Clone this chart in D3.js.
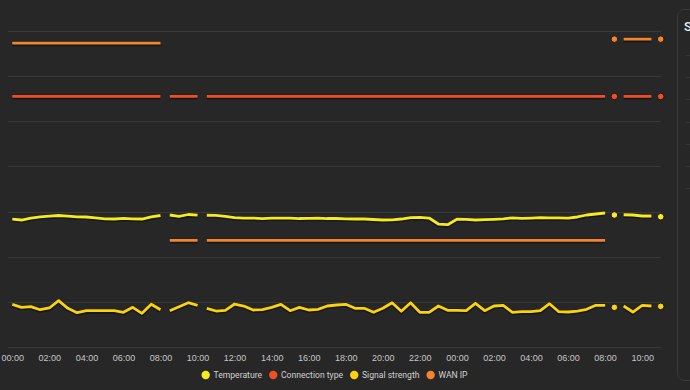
<!DOCTYPE html>
<html>
<head>
<meta charset="utf-8">
<script src="https://cdn.jsdelivr.net/npm/d3@7"></script>
<style>
  html, body { margin: 0; padding: 0; background: #272727; }
  svg { display: block; font-family: Roboto, "Noto Sans", sans-serif; }
</style>
</head>
<body>
<svg id="chart" width="690" height="390"></svg>
<script>
// ---- DATA ----
// hours since first midnight; null values mark gaps in the recording
const hours = [
  0,0.5,1,1.5,2,2.5,3,3.5,4,4.5,5,5.5,6,6.5,7,7.5,8,
  8.25,
  8.5,9,9.5,10,
  10.25,
  10.5,11,11.5,12,12.5,13,13.5,14,14.5,15,15.5,16,16.5,17,17.5,18,18.5,19,19.5,20,
  20.5,21,21.5,22,22.5,23,23.5,24,24.5,25,25.5,26,26.5,27,27.5,28,28.5,29,29.5,30,
  30.5,31,31.5,32,
  32.25,
  32.5,
  32.75,
  33,33.5,34,34.5,
  34.75,
  35
];

const temperature = [
  28.35,28.13,28.57,28.84,28.97,29.13,28.97,28.84,28.80,28.62,28.40,28.35,28.51,28.40,28.35,28.80,29.13,
  null,
  29.24,28.91,29.35,29.19,
  null,
  29.19,29.17,28.95,28.68,28.57,28.57,28.46,28.57,28.57,28.57,28.46,28.51,28.57,28.46,28.46,28.40,28.35,28.35,28.24,28.13,
  28.18,28.35,28.68,28.73,28.57,27.24,27.09,28.31,28.29,28.13,28.22,28.29,28.40,28.62,28.51,28.57,28.64,28.62,28.62,28.57,
  28.80,29.24,29.46,29.68,
  null,
  29.24,
  null,
  29.30,29.24,29.02,29.02,
  null,
  28.86
];

const connectionType = [
  55.5,55.5,55.5,55.5,55.5,55.5,55.5,55.5,55.5,55.5,55.5,55.5,55.5,55.5,55.5,55.5,55.5,
  null,
  55.5,55.5,55.5,55.5,
  null,
  55.5,55.5,55.5,55.5,55.5,55.5,55.5,55.5,55.5,55.5,55.5,55.5,55.5,55.5,55.5,55.5,55.5,55.5,55.5,55.5,
  55.5,55.5,55.5,55.5,55.5,55.5,55.5,55.5,55.5,55.5,55.5,55.5,55.5,55.5,55.5,55.5,55.5,55.5,55.5,55.5,
  55.5,55.5,55.5,55.5,
  null,
  55.5,
  null,
  55.5,55.5,55.5,55.5,
  null,
  55.5
];

const signalStrength = [
  9.46,8.79,8.93,8.26,8.64,10.26,8.57,7.60,8.04,8.04,8.04,8.04,7.69,8.79,7.46,9.46,8.26,
  null,
  8.04,8.93,9.81,9.24,
  null,
  8.57,7.97,8.13,9.52,9.08,8.20,8.26,8.79,9.46,8.04,8.79,8.20,8.35,9.08,9.30,9.46,8.57,8.57,7.69,8.57,
  9.81,7.91,9.81,7.69,7.69,9.08,8.13,8.13,8.04,9.68,8.04,9.08,9.24,7.69,7.82,7.82,8.04,9.59,7.82,7.75,
  7.97,8.35,9.24,9.24,
  null,
  8.79,
  null,
  9.08,7.75,9.24,9.08,
  null,
  9.01
];

const wanIP = [
  67.3,67.3,67.3,67.3,67.3,67.3,67.3,67.3,67.3,67.3,67.3,67.3,67.3,67.3,67.3,67.3,67.3,
  null,
  23.6,23.6,23.6,23.6,
  null,
  23.6,23.6,23.6,23.6,23.6,23.6,23.6,23.6,23.6,23.6,23.6,23.6,23.6,23.6,23.6,23.6,23.6,23.6,23.6,23.6,
  23.6,23.6,23.6,23.6,23.6,23.6,23.6,23.6,23.6,23.6,23.6,23.6,23.6,23.6,23.6,23.6,23.6,23.6,23.6,23.6,
  23.6,23.6,23.6,23.6,
  null,
  68.2,
  null,
  68.2,68.2,68.2,68.2,
  null,
  68.2
];

const seriesNames = ["Temperature", "Connection type", "Signal strength", "WAN IP"];
const seriesColors = ["#f7ea1e", "#f24e23", "#fcd20c", "#f5842c"];
const seriesValues = [temperature, connectionType, signalStrength, wanIP];

const tickHours = [0,2,4,6,8,10,12,14,16,18,20,22,24,26,28,30,32,34];
const tickLabels = ["00:00","02:00","04:00","06:00","08:00","10:00","12:00","14:00","16:00","18:00",
                    "20:00","22:00","00:00","02:00","04:00","06:00","08:00","10:00"];
const yGridValues = [0,10,20,30,40,50,60,70];

// ---- CHART ----
const svg = d3.select("#chart");
const x = d3.scaleLinear().domain([0, 35]).range([12.3, 660.7]);
const y = d3.scaleLinear().domain([0, 70]).range([347, 31]);

// grid lines
svg.append("g").selectAll("line").data(yGridValues).join("line")
  .attr("x1", 8).attr("x2", 661)
  .attr("y1", d => Math.round(y(d)) + 0.5).attr("y2", d => Math.round(y(d)) + 0.5)
  .attr("stroke", "#393939").attr("stroke-width", 1);

// x axis
const xAxis = d3.axisBottom(x).tickValues(tickHours)
  .tickFormat((d, i) => tickLabels[i]).tickSize(0).tickPadding(0);
const gx = svg.append("g").attr("transform", "translate(0,358)").call(xAxis);
gx.select(".domain").remove();
gx.selectAll("text").attr("fill", "#c6c6c6").attr("font-size", "9px").attr("dy", "0.35em");

// series
const seriesG = svg.append("g");
seriesValues.forEach((vals, si) => {
  const pts = hours.map((h, i) => ({ h, v: vals[i] }));
  const line = d3.line().defined(d => d.v != null).x(d => x(d.h)).y(d => y(d.v));
  const g = seriesG.append("g");
  g.append("path").datum(pts).attr("d", line)
    .attr("fill", "none").attr("stroke", "#11161a").attr("stroke-opacity", 0.85)
    .attr("stroke-width", 4.8).attr("stroke-linejoin", "round").attr("transform", "translate(0,0.6)");
  g.append("path").datum(pts).attr("d", line)
    .attr("fill", "none").attr("stroke", seriesColors[si])
    .attr("stroke-width", 2.8).attr("stroke-linejoin", "round");
  // isolated points
  const iso = pts.filter((d, i) => d.v != null &&
    (i === 0 || pts[i - 1].v == null) && (i === pts.length - 1 || pts[i + 1].v == null));
  g.selectAll("circle").data(iso).join("circle")
    .attr("cx", d => x(d.h)).attr("cy", d => y(d.v)).attr("r", 3.3)
    .attr("fill", seriesColors[si]).attr("stroke", "#11161a").attr("stroke-width", 1);
});

// legend
const legend = svg.append("g").attr("transform", "translate(0,375)");
const items = legend.selectAll("g").data(seriesNames).join("g");
items.append("circle").attr("r", 4.2).attr("cx", 4.2).attr("cy", 0)
  .attr("fill", (d, i) => seriesColors[i]);
items.append("text").attr("x", 12).attr("y", 0).attr("dy", "0.35em")
  .attr("fill", "#d2d2d2").attr("font-size", "8.6px").text(d => d);
let widths = [];
items.each(function () { widths.push(12 + this.querySelector("text").getComputedTextLength()); });
const gap = 7;
const total = d3.sum(widths) + gap * (widths.length - 1);
let cur = 334.5 - total / 2;
items.attr("transform", (d, i) => { const t = `translate(${cur},0)`; cur += widths[i] + gap; return t; });

// right-hand neighbouring card (clipped by viewport)
svg.append("rect").attr("x", 677.5).attr("y", 9.5).attr("width", 40).attr("height", 371)
  .attr("rx", 7).attr("fill", "#272727").attr("stroke", "#3a3a3a");
svg.append("g").selectAll("line").data([55, 77, 99, 122, 144, 166, 188]).join("line")
  .attr("x1", 686).attr("x2", 690).attr("y1", d => d + 0.5).attr("y2", d => d + 0.5)
  .attr("stroke", "#363636");
svg.append("text").attr("x", 684).attr("y", 31).attr("fill", "#f2f2f2")
  .attr("font-size", "13px").attr("font-weight", 500).text("S");
</script>
</body>
</html>
